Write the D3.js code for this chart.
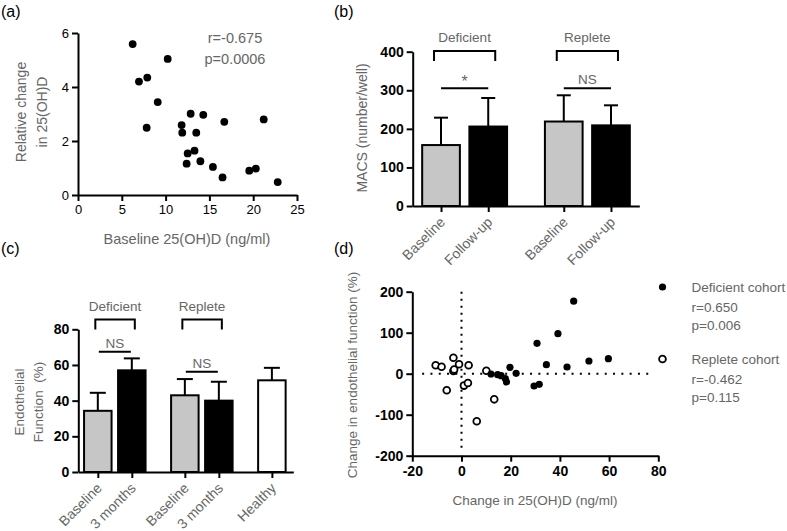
<!DOCTYPE html>
<html>
<head>
<meta charset="utf-8">
<script src="https://cdn.jsdelivr.net/npm/d3@7"></script>
<style>
  html, body { margin: 0; padding: 0; background: #fff; }
  svg { display: block; font-family: "Liberation Sans", Arial, sans-serif; }
  .axis path, .axis line { stroke: #000; stroke-width: 2; }
  .ttl { fill: #666; }
</style>
</head>
<body>
<svg id="chart" width="787" height="531"></svg>
<script>
// ---------- Panel (a) data ----------
const aBaseline = [6.24, 10.24, 6.96, 7.91, 9.1, 7.84, 11.83, 11.9, 12.86, 14.3, 13.5, 16.7, 21.2, 12.52, 13.3, 12.4, 13.97, 15.4, 16.5, 19.55, 20.3, 22.8];
const aRelChange = [5.59, 5.04, 4.2, 4.35, 3.44, 2.49, 2.59, 2.31, 3.01, 2.97, 2.31, 2.71, 2.8, 1.54, 1.64, 1.16, 1.25, 1.04, 0.65, 0.9, 0.98, 0.48];
const aTicksX = [0, 5, 10, 15, 20, 25];
const aTicksY = [0, 2, 4, 6];
const aStats = ["r=-0.675", "p=0.0006"];

// ---------- Panel (b) data ----------
const bGroups = ["Deficient", "Replete"];
const bCategories = ["Baseline", "Follow-up", "Baseline", "Follow-up"];
const bGroupOf = [0, 0, 1, 1];
const bMeans = [158, 206, 219, 209];
const bSD = [71, 74, 68, 52];
const bTicksY = [0, 100, 200, 300, 400];
const bSigLabels = ["*", "NS"];
const bSigLevel = [305, 305];

// ---------- Panel (c) data ----------
const cGroups = ["Deficient", "Replete"];
const cCategories = ["Baseline", "3 months", "Baseline", "3 months", "Healthy"];
const cGroupOf = [0, 0, 1, 1, 2];
const cMeans = [34.3, 57, 43, 40, 51.4];
const cSD = [10.1, 6.7, 9.1, 10.6, 7.0];
const cTicksY = [0, 20, 40, 60, 80];
const cSigLabels = ["NS", "NS"];
const cSigLevel = [67.4, 56.2];

// ---------- Panel (d) data ----------
const dDefX = [30.7, 45.6, 39.2, 34.5, 42.9, 51.8, 59.7, 29.5, 31.6, 19.7, 22.2, 12.0, 14.7, 16.1, 17.8, 18.3];
const dDefY = [74, 177, 97.6, 22, 16.3, 31, 36.6, -30, -26, 15.6, 1, -0.7, -2.4, -4.9, -12, -20];
const dRepX = [-10.5, -8.1, -3.3, -1.0, 2.9, -3.3, -3.0, -6.0, 1.0, 2.6, 10.1, 13.3, 6.2];
const dRepY = [20.5, 17, 39, 23, 20.5, 6.6, 10, -40.5, -29, -22.5, 7.3, -62.5, -116];
const dTicksX = [-20, 0, 20, 40, 60, 80];
const dTicksY = [-200, -100, 0, 100, 200];
const dLegend = [
  { name: "Deficient cohort", r: "r=0.650", p: "p=0.006", filled: true },
  { name: "Replete cohort", r: "r=-0.462", p: "p=0.115", filled: false }
];

const svg = d3.select("#chart");
const hyphenFmt = d => String(d).replace("\u2212", "-");

function panelLabel(txt, x, y) {
  svg.append("text").attr("x", x).attr("y", y).attr("font-size", 16).attr("fill", "#000").text(txt);
}
function styleTicks(g, size, weight) {
  g.selectAll("text").attr("font-size", size).attr("font-weight", weight).attr("fill", "#000")
    .attr("font-family", "Liberation Sans, Arial, sans-serif");
}

// ================= Panel (a) =================
panelLabel("(a)", 1, 17);
{
  const x = d3.scaleLinear().domain([0, 25]).range([78, 297]);
  const y = d3.scaleLinear().domain([0, 6]).range([195, 33]);
  const gx = svg.append("g").attr("class", "axis").attr("transform", "translate(0,195)")
    .call(d3.axisBottom(x).tickValues(aTicksX).tickFormat(hyphenFmt).tickSize(6).tickSizeOuter(0).tickPadding(4));
  styleTicks(gx, 13, "normal");
  const gy = svg.append("g").attr("class", "axis").attr("transform", "translate(78,0)")
    .call(d3.axisLeft(y).tickValues(aTicksY).tickFormat(hyphenFmt).tickSize(6).tickSizeOuter(0).tickPadding(3));
  styleTicks(gy, 13, "normal");
  svg.append("g").selectAll("circle").data(aBaseline).join("circle")
    .attr("cx", d => x(d)).attr("cy", (d, i) => y(aRelChange[i])).attr("r", 3.9).attr("fill", "#000");
  svg.append("text").attr("class", "ttl").attr("x", 235).attr("y", 43).attr("text-anchor", "middle").attr("font-size", 14.5).text(aStats[0]);
  svg.append("text").attr("class", "ttl").attr("x", 235).attr("y", 64).attr("text-anchor", "middle").attr("font-size", 14.5).text(aStats[1]);
  svg.append("text").attr("class", "ttl").attr("x", 187).attr("y", 244).attr("text-anchor", "middle").attr("font-size", 14.5).text("Baseline 25(OH)D (ng/ml)");
  svg.append("text").attr("class", "ttl").attr("transform", "translate(26,112) rotate(-90)").attr("text-anchor", "middle").attr("font-size", 14).text("Relative change");
  svg.append("text").attr("class", "ttl").attr("transform", "translate(47,112) rotate(-90)").attr("text-anchor", "middle").attr("font-size", 14).text("in 25(OH)D");
}

// ---------- bar panel helper ----------
function barPanel(cfg) {
  const slots = cfg.cats.map((c, i) => i + cfg.groupOf[i] * cfg.gap);
  const x = d3.scaleLinear().domain(cfg.slotDomain).range(cfg.xRange);
  const y = d3.scaleLinear().domain(cfg.yDomain).range(cfg.yRange);
  const y0 = y(0);
  svg.append("g").selectAll("rect").data(cfg.means).join("rect")
    .attr("x", (d, i) => x(slots[i]) - cfg.bw / 2).attr("width", cfg.bw)
    .attr("y", d => y(d)).attr("height", d => y0 - y(d))
    .attr("fill", (d, i) => cfg.fills[i]).attr("stroke", "#000").attr("stroke-width", 2);
  const eb = svg.append("g").attr("stroke", "#000").attr("stroke-width", 2);
  cfg.means.forEach((m, i) => {
    const cx = x(slots[i]);
    eb.append("line").attr("x1", cx).attr("x2", cx).attr("y1", y(m)).attr("y2", y(m + cfg.sd[i]));
    eb.append("line").attr("x1", cx - cfg.cap).attr("x2", cx + cfg.cap).attr("y1", y(m + cfg.sd[i])).attr("y2", y(m + cfg.sd[i]));
  });
  svg.append("g").attr("class", "axis").attr("transform", `translate(0,${y0})`)
    .call(d3.axisBottom(x).tickValues(slots).tickFormat("").tickSize(6).tickSizeOuter(0));
  const gy = svg.append("g").attr("class", "axis").attr("transform", `translate(${cfg.xRange[0]},0)`)
    .call(d3.axisLeft(y).tickValues(cfg.yTicks).tickSize(6).tickSizeOuter(0).tickPadding(3));
  styleTicks(gy, 14, "bold");
  svg.append("g").selectAll("text").data(cfg.cats).join("text")
    .attr("class", "ttl").attr("font-size", 14).attr("text-anchor", "end")
    .attr("transform", (d, i) => `translate(${x(slots[i]) + 5},${y0 + 17}) rotate(-45)`)
    .text(d => d);
  cfg.groups.forEach((gname, g) => {
    const idx = cfg.groupOf.map((v, i) => v === g ? i : -1).filter(i => i >= 0);
    const xl = x(slots[idx[0]]) - cfg.brExt[0], xr = x(slots[idx[idx.length - 1]]) + cfg.brExt[1];
    const yt = cfg.brTop, yb = cfg.brBottom;
    svg.append("path").attr("d", `M${xl},${yb}V${yt}H${xr}V${yb}`)
      .attr("fill", "none").attr("stroke", "#000").attr("stroke-width", 2);
    svg.append("text").attr("class", "ttl").attr("font-size", 13.5).attr("text-anchor", "middle")
      .attr("x", (xl + xr) / 2).attr("y", yt - 9).text(gname);
    const ly = y(cfg.sigLevel[g]);
    svg.append("line").attr("x1", x(slots[idx[0]]) + cfg.sigInset).attr("x2", x(slots[idx[1]]) - cfg.sigInset)
      .attr("y1", ly).attr("y2", ly).attr("stroke", "#000").attr("stroke-width", 2);
    svg.append("text").attr("class", "ttl").attr("font-size", cfg.sigLabels[g] === "*" ? 16 : 13.5)
      .attr("text-anchor", "middle").attr("x", (x(slots[idx[0]]) + x(slots[idx[1]])) / 2)
      .attr("y", ly - (cfg.sigLabels[g] === "*" ? 1 : 4)).text(cfg.sigLabels[g]);
  });
  cfg.yTitle.forEach((t, k) => {
    svg.append("text").attr("class", "ttl").attr("font-size", cfg.yTitleSize).attr("text-anchor", "middle")
      .attr("transform", `translate(${cfg.yTitleX[k]},${cfg.yTitleY}) rotate(-90)`).text(t);
  });
}

// ================= Panel (b) =================
panelLabel("(b)", 334, 17);
barPanel({
  cats: bCategories, groupOf: bGroupOf, gap: 0.6, groups: bGroups,
  means: bMeans, sd: bSD,
  slotDomain: [-0.6, 4.2], xRange: [412.7, 639.3],
  yDomain: [0, 400], yRange: [206, 51.7], yTicks: bTicksY,
  bw: 37.7, cap: 7, fills: ["#c6c6c6", "#000", "#c6c6c6", "#000"],
  brExt: [7, 7], brTop: 51, brBottom: 61,
  sigLabels: bSigLabels, sigLevel: bSigLevel, sigInset: 0,
  yTitle: ["MACS (number/well)"], yTitleX: [367], yTitleY: 128, yTitleSize: 14
});

// ================= Panel (c) =================
panelLabel("(c)", 1, 254);
barPanel({
  cats: cCategories, groupOf: cGroupOf, gap: 0.56, groups: cGroups,
  means: cMeans, sd: cSD,
  slotDomain: [-0.574, 5.75], xRange: [78.3, 293.3],
  yDomain: [0, 80], yRange: [472, 329.3], yTicks: cTicksY,
  bw: 27.5, cap: 8, fills: ["#c6c6c6", "#000", "#c6c6c6", "#000", "#fff"],
  brExt: [2.5, 3], brTop: 319.5, brBottom: 329.5,
  sigLabels: cSigLabels, sigLevel: cSigLevel, sigInset: 1,
  yTitle: ["Endothelial", "Function\u00a0 (%)"], yTitleX: [24, 43], yTitleY: 402, yTitleSize: 13.5
});

// ================= Panel (d) =================
panelLabel("(d)", 334, 254);
{
  const x = d3.scaleLinear().domain([-20, 80]).range([412.3, 658.3]);
  const y = d3.scaleLinear().domain([-200, 200]).range([455.7, 291.7]);
  svg.append("line").attr("x1", x(0)).attr("x2", x(0)).attr("y1", y(200)).attr("y2", y(-192))
    .attr("stroke", "#000").attr("stroke-width", 2).attr("stroke-dasharray", "2,5");
  svg.append("line").attr("x1", x(-16)).attr("x2", x(78)).attr("y1", y(0)).attr("y2", y(0))
    .attr("stroke", "#000").attr("stroke-width", 2).attr("stroke-dasharray", "2,6.3");
  const gx = svg.append("g").attr("class", "axis").attr("transform", `translate(0,${y(-200)})`)
    .call(d3.axisBottom(x).tickValues(dTicksX).tickFormat(hyphenFmt).tickSize(6).tickSizeOuter(0).tickPadding(4));
  styleTicks(gx, 14, "bold");
  const gy = svg.append("g").attr("class", "axis").attr("transform", `translate(${x(-20)},0)`)
    .call(d3.axisLeft(y).tickValues(dTicksY).tickFormat(hyphenFmt).tickSize(6).tickSizeOuter(0).tickPadding(3));
  styleTicks(gy, 14, "bold");
  svg.append("g").selectAll("circle").data(dRepX).join("circle")
    .attr("cx", d => x(d)).attr("cy", (d, i) => y(dRepY[i])).attr("r", 3.4)
    .attr("fill", "#fff").attr("stroke", "#000").attr("stroke-width", 1.8);
  svg.append("g").selectAll("circle").data(dDefX).join("circle")
    .attr("cx", d => x(d)).attr("cy", (d, i) => y(dDefY[i])).attr("r", 3.6).attr("fill", "#000");
  const lg = [287, 359];
  dLegend.forEach((L, k) => {
    svg.append("circle").attr("cx", 662.5).attr("cy", lg[k]).attr("r", L.filled ? 3.6 : 3.4)
      .attr("fill", L.filled ? "#000" : "#fff").attr("stroke", "#000").attr("stroke-width", L.filled ? 0 : 1.8);
    svg.append("text").attr("class", "ttl").attr("font-size", 13.5).attr("x", 691.5).attr("y", lg[k] + 5).text(L.name);
    svg.append("text").attr("class", "ttl").attr("font-size", 13.5).attr("x", 691.5).attr("y", lg[k] + 25).text(L.r);
    svg.append("text").attr("class", "ttl").attr("font-size", 13.5).attr("x", 691.5).attr("y", lg[k] + 43).text(L.p);
  });
  svg.append("text").attr("class", "ttl").attr("font-size", 13.5).attr("text-anchor", "middle")
    .attr("x", 535).attr("y", 505).text("Change in 25(OH)D (ng/ml)");
  svg.append("text").attr("class", "ttl").attr("font-size", 13.5).attr("text-anchor", "middle")
    .attr("transform", "translate(357,375) rotate(-90)").text("Change in endothelial function (%)");
}
</script>
</body>
</html>
